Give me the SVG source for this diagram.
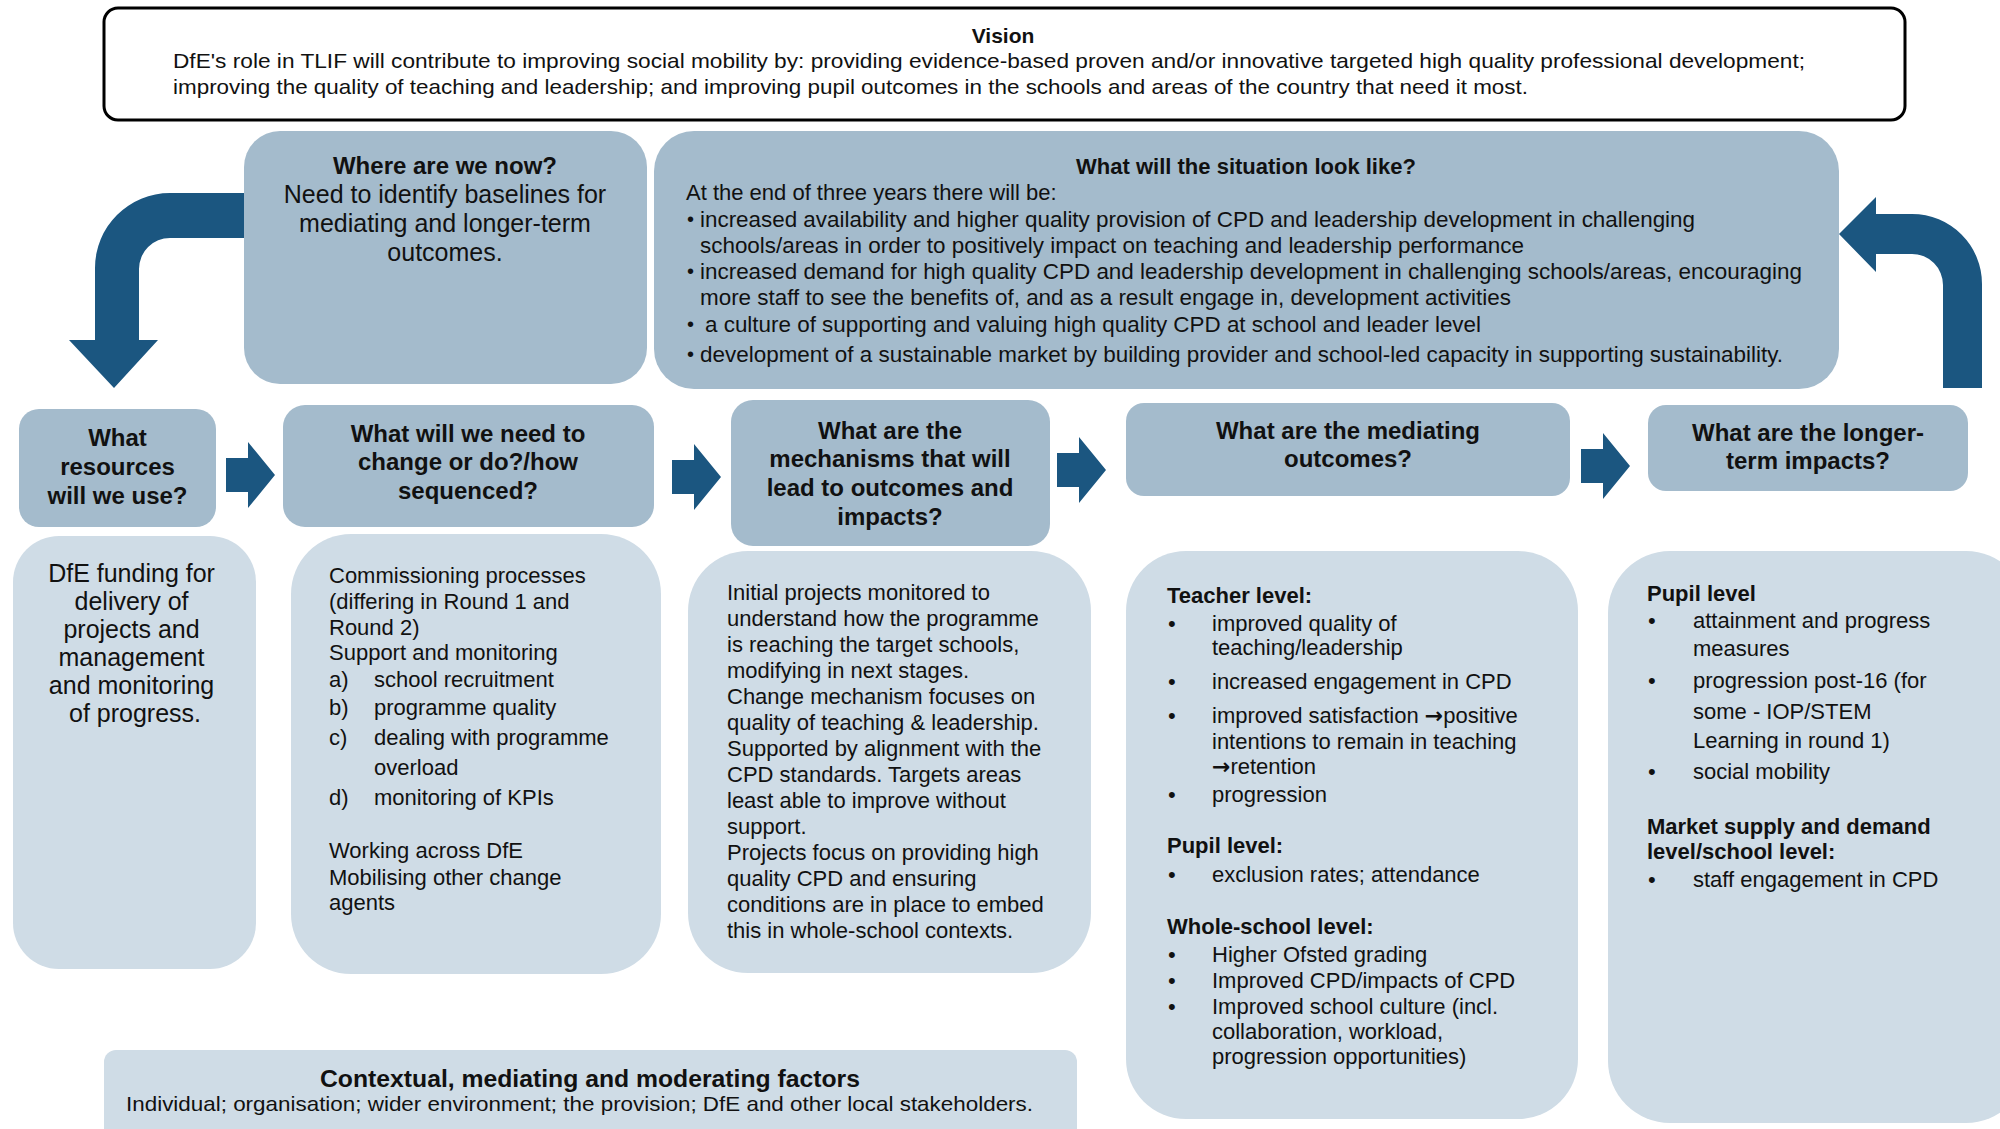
<svg xmlns="http://www.w3.org/2000/svg" width="2000" height="1129" viewBox="0 0 2000 1129">
<style>
text{font-family:"Liberation Sans",Arial,sans-serif;fill:#111;}
.b{font-weight:bold;}
.h{font-size:24px;font-weight:bold;text-anchor:middle;}
.t22{font-size:22px;}
.t21{font-size:21px;}
.t20{font-size:20px;}
.c{text-anchor:middle;}
.dark{fill:#a4bbcc;}
.light{fill:#cfdce6;}
.arr{fill:#1b5680;}
.sym{font-family:"DejaVu Sans",sans-serif;font-weight:bold;font-size:22px;}
</style>
<rect width="2000" height="1129" fill="#ffffff"/>

<g id="connectors">
  <path class="arr" d="M 250 193 L 170 193 A 75 75 0 0 0 95 268 L 95 340 L 69 340 L 114 388 L 158 340 L 139 340 L 139 269 A 31 31 0 0 1 170 238 L 250 238 Z"/>
  <path class="arr" d="M 1982 388 L 1982 284 A 70 70 0 0 0 1912 214 L 1876 214 L 1876 197 L 1839 234 L 1876 272 L 1876 254 L 1912 254 A 31 31 0 0 1 1943 285 L 1943 388 Z"/>
  <polygon class="arr" points="226,458 248,458 248,442 275,475 248,508 248,492 226,492"/>
  <polygon class="arr" points="672,460 694,460 694,444 721,477 694,510 694,494 672,494"/>
  <polygon class="arr" points="1057,453 1079,453 1079,437 1106,470 1079,503 1079,487 1057,487"/>
  <polygon class="arr" points="1581,449 1603,449 1603,433 1630,466 1603,499 1603,483 1581,483"/>
</g>

<g id="vision">
  <rect x="104" y="8" width="1801" height="112" rx="14" fill="#ffffff" stroke="#000" stroke-width="3"/>
  <text x="1003" y="43" class="c b" font-size="21">Vision</text>
  <text x="173" y="68" class="t21" textLength="1632" lengthAdjust="spacingAndGlyphs">DfE's role in TLIF will contribute to improving social mobility by: providing evidence-based proven and/or innovative targeted high quality professional development;</text>
  <text x="173" y="94" class="t21" textLength="1355" lengthAdjust="spacingAndGlyphs">improving the quality of teaching and leadership; and improving pupil outcomes in the schools and areas of the country that need it most.</text>
</g>

<g id="now">
  <rect class="dark" x="244" y="131" width="403" height="253" rx="36"/>
  <text x="445" y="174" class="h">Where are we now?</text>
  <text x="445" y="203" class="c" font-size="25">Need to identify baselines for</text>
  <text x="445" y="232" class="c" font-size="25">mediating and longer-term</text>
  <text x="445" y="261" class="c" font-size="25">outcomes.</text>
</g>

<g id="situation">
  <rect class="dark" x="654" y="131" width="1185" height="258" rx="40"/>
  <text x="1246" y="174" class="c b t22">What will the situation look like?</text>
  <text x="686" y="200" class="t22">At the end of three years there will be:</text>
  <text x="687" y="226" class="t20">•</text>
  <text x="700" y="227" class="t22" textLength="995" lengthAdjust="spacingAndGlyphs">increased availability and higher quality provision of CPD and leadership development in challenging</text>
  <text x="700" y="253" class="t22" textLength="824" lengthAdjust="spacingAndGlyphs">schools/areas in order to positively impact on teaching and leadership performance</text>
  <text x="687" y="278" class="t20">•</text>
  <text x="700" y="279" class="t22" textLength="1102" lengthAdjust="spacingAndGlyphs">increased demand for high quality CPD and leadership development in challenging schools/areas, encouraging</text>
  <text x="700" y="305" class="t22" textLength="811" lengthAdjust="spacingAndGlyphs">more staff to see the benefits of, and as a result engage in, development activities</text>
  <text x="687" y="331" class="t20">•</text>
  <text x="705" y="332" class="t22" textLength="776" lengthAdjust="spacingAndGlyphs">a culture of supporting and valuing high quality CPD at school and leader level</text>
  <text x="687" y="361" class="t20">•</text>
  <text x="700" y="362" class="t22" textLength="1083" lengthAdjust="spacingAndGlyphs">development of a sustainable market by building provider and school-led capacity in supporting sustainability.</text>
</g>

<g id="resources">
  <rect class="dark" x="19" y="409" width="197" height="118" rx="20"/>
  <text x="117.5" y="446" class="h">What</text>
  <text x="117.5" y="475" class="h">resources</text>
  <text x="117.5" y="504" class="h">will we use?</text>
</g>
<g id="change">
  <rect class="dark" x="283" y="405" width="371" height="122" rx="22"/>
  <text x="468" y="442" class="h">What will we need to</text>
  <text x="468" y="470" class="h">change or do?/how</text>
  <text x="468" y="499" class="h">sequenced?</text>
</g>
<g id="mechanisms">
  <rect class="dark" x="731" y="400" width="319" height="146" rx="22"/>
  <text x="890" y="439" class="h">What are the</text>
  <text x="890" y="467" class="h">mechanisms that will</text>
  <text x="890" y="496" class="h">lead to outcomes and</text>
  <text x="890" y="525" class="h">impacts?</text>
</g>
<g id="mediating">
  <rect class="dark" x="1126" y="403" width="444" height="93" rx="18"/>
  <text x="1348" y="439" class="h">What are the mediating</text>
  <text x="1348" y="467" class="h">outcomes?</text>
</g>
<g id="longer">
  <rect class="dark" x="1648" y="405" width="320" height="86" rx="18"/>
  <text x="1808" y="441" class="h">What are the longer-</text>
  <text x="1808" y="469" class="h">term impacts?</text>
</g>

<g id="resources-detail">
  <rect class="light" x="13" y="536" width="243" height="433" rx="46"/>
  <text class="c" font-size="25" x="135">
    <tspan x="135" y="582">DfE funding for</tspan>
    <tspan x="135" y="610">delivery of</tspan>
    <tspan x="135" y="638">projects and</tspan>
    <tspan x="135" y="666">management</tspan>
    <tspan x="135" y="694">and monitoring</tspan>
    <tspan x="135" y="722">of progress.</tspan>
  </text>
</g>

<g id="change-detail">
  <rect class="light" x="291" y="534" width="370" height="440" rx="60"/>
  <text class="t22">
    <tspan x="329" y="583">Commissioning processes</tspan>
    <tspan x="329" y="609">(differing in Round 1 and</tspan>
    <tspan x="329" y="635">Round 2)</tspan>
    <tspan x="329" y="660">Support and monitoring</tspan>
    <tspan x="329" y="687">a)</tspan><tspan x="374" y="687">school recruitment</tspan>
    <tspan x="329" y="715">b)</tspan><tspan x="374" y="715">programme quality</tspan>
    <tspan x="329" y="745">c)</tspan><tspan x="374" y="745">dealing with programme</tspan>
    <tspan x="374" y="775">overload</tspan>
    <tspan x="329" y="805">d)</tspan><tspan x="374" y="805">monitoring of KPIs</tspan>
    <tspan x="329" y="858">Working across DfE</tspan>
    <tspan x="329" y="885">Mobilising other change</tspan>
    <tspan x="329" y="910">agents</tspan>
  </text>
</g>

<g id="mechanisms-detail">
  <rect class="light" x="688" y="551" width="403" height="422" rx="60"/>
  <text class="t22">
    <tspan x="727" y="600">Initial projects monitored to</tspan>
    <tspan x="727" y="626">understand how the programme</tspan>
    <tspan x="727" y="652">is reaching the target schools,</tspan>
    <tspan x="727" y="678">modifying in next stages.</tspan>
    <tspan x="727" y="704">Change mechanism focuses on</tspan>
    <tspan x="727" y="730">quality of teaching &amp; leadership.</tspan>
    <tspan x="727" y="756">Supported by alignment with the</tspan>
    <tspan x="727" y="782">CPD standards. Targets areas</tspan>
    <tspan x="727" y="808">least able to improve without</tspan>
    <tspan x="727" y="834">support.</tspan>
    <tspan x="727" y="860">Projects focus on providing high</tspan>
    <tspan x="727" y="886">quality CPD and ensuring</tspan>
    <tspan x="727" y="912">conditions are in place to embed</tspan>
    <tspan x="727" y="938">this in whole-school contexts.</tspan>
  </text>
</g>

<g id="mediating-detail">
  <rect class="light" x="1126" y="551" width="452" height="568" rx="60"/>
  <text class="t22">
    <tspan x="1167" y="603" class="b">Teacher level:</tspan>
    <tspan x="1168" y="631">•</tspan><tspan x="1212" y="631">improved quality of</tspan>
    <tspan x="1212" y="655">teaching/leadership</tspan>
    <tspan x="1168" y="689">•</tspan><tspan x="1212" y="689">increased engagement in CPD</tspan>
    <tspan x="1168" y="723">•</tspan><tspan x="1212" y="723">improved satisfaction </tspan><tspan class="sym">→</tspan><tspan>positive</tspan>
    <tspan x="1212" y="749">intentions to remain in teaching</tspan>
    <tspan x="1212" y="774" class="sym">→</tspan><tspan>retention</tspan>
    <tspan x="1168" y="802">•</tspan><tspan x="1212" y="802">progression</tspan>
    <tspan x="1167" y="853" class="b">Pupil level:</tspan>
    <tspan x="1168" y="882">•</tspan><tspan x="1212" y="882">exclusion rates; attendance</tspan>
    <tspan x="1167" y="934" class="b">Whole-school level:</tspan>
    <tspan x="1168" y="962">•</tspan><tspan x="1212" y="962">Higher Ofsted grading</tspan>
    <tspan x="1168" y="988">•</tspan><tspan x="1212" y="988">Improved CPD/impacts of CPD</tspan>
    <tspan x="1168" y="1014">•</tspan><tspan x="1212" y="1014">Improved school culture (incl.</tspan>
    <tspan x="1212" y="1039">collaboration, workload,</tspan>
    <tspan x="1212" y="1064">progression opportunities)</tspan>
  </text>
</g>

<g id="longer-detail">
  <rect class="light" x="1608" y="551" width="420" height="572" rx="62"/>
  <text class="t22">
    <tspan x="1647" y="601" class="b">Pupil level</tspan>
    <tspan x="1648" y="628">•</tspan><tspan x="1693" y="628">attainment and progress</tspan>
    <tspan x="1693" y="656">measures</tspan>
    <tspan x="1648" y="688">•</tspan><tspan x="1693" y="688">progression post-16 (for</tspan>
    <tspan x="1693" y="719">some - IOP/STEM</tspan>
    <tspan x="1693" y="748">Learning in round 1)</tspan>
    <tspan x="1648" y="779">•</tspan><tspan x="1693" y="779">social mobility</tspan>
    <tspan x="1647" y="834" class="b">Market supply and demand</tspan>
    <tspan x="1647" y="859" class="b">level/school level:</tspan>
    <tspan x="1648" y="887">•</tspan><tspan x="1693" y="887">staff engagement in CPD</tspan>
  </text>
</g>

<g id="context">
  <rect class="light" x="104" y="1050" width="973" height="110" rx="12"/>
  <text x="590" y="1087" class="c b" font-size="24" textLength="540" lengthAdjust="spacingAndGlyphs">Contextual, mediating and moderating factors</text>
  <text x="126" y="1111" font-size="21" textLength="907" lengthAdjust="spacingAndGlyphs">Individual; organisation; wider environment; the provision; DfE and other local stakeholders.</text>
</g>
</svg>
